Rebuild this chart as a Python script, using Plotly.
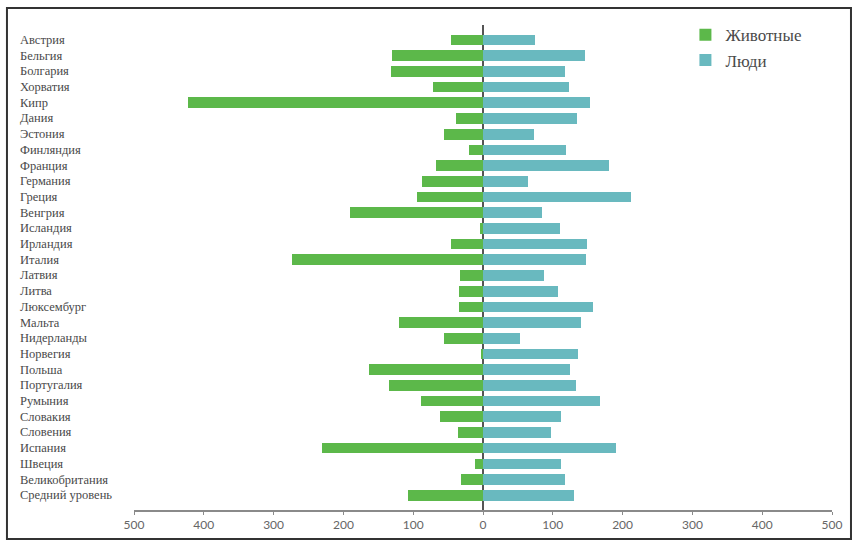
import plotly.graph_objects as go

countries = ["Австрия", "Бельгия", "Болгария", "Хорватия", "Кипр", "Дания", "Эстония",
             "Финляндия", "Франция", "Германия", "Греция", "Венгрия", "Исландия", "Ирландия",
             "Италия", "Латвия", "Литва", "Люксембург", "Мальта", "Нидерланды", "Норвегия",
             "Польша", "Португалия", "Румыния", "Словакия", "Словения", "Испания", "Швеция",
             "Великобритания", "Средний уровень"]
animals = [46, 131, 132, 71, 422, 39, 56, 20, 68, 88, 94, 190, 4, 46, 274, 33, 34, 34,
           120, 56, 3, 164, 134, 89, 61, 36, 230, 12, 32, 108]
people = [74, 146, 117, 123, 153, 135, 73, 119, 181, 64, 212, 84, 111, 149, 148, 88, 107,
          158, 140, 53, 136, 124, 133, 168, 112, 98, 191, 112, 118, 130]
tick_vals = [-500, -400, -300, -200, -100, 0, 100, 200, 300, 400, 500]
tick_text = [str(abs(v)) for v in tick_vals]

GREEN = "#5cb84a"
TEAL = "#69b9bf"

fig = go.Figure()
fig.add_trace(go.Bar(y=countries, x=[-a for a in animals], orientation="h", name="Животные",
                     marker=dict(color=GREEN, line=dict(width=0)), width=0.68))
fig.add_trace(go.Bar(y=countries, x=people, orientation="h", name="Люди",
                     marker=dict(color=TEAL, line=dict(width=0)), width=0.68))

# left-aligned category labels
for c in countries:
    fig.add_annotation(x=-0.1662, xref="paper", y=c, yref="y", text=c, showarrow=False,
                       xanchor="left", yanchor="middle",
                       font=dict(family="Liberation Serif", size=12.5, color="#4a4a4a"))

# frame
fig.add_shape(type="rect", xref="paper", yref="paper", x0=-0.182, x1=1.0272,
              y0=-0.0598, y1=1.035, line=dict(color="#333333", width=2), layer="above")

fig.update_layout(
    width=860, height=551,
    margin=dict(l=134, r=28, t=25, b=41),
    paper_bgcolor="white", plot_bgcolor="white",
    barmode="relative", bargap=0,
    showlegend=True,
    legend=dict(x=0.79, y=1.016, xanchor="left", yanchor="top",
                font=dict(family="Liberation Serif", size=17, color="#4a4a4a"),
                bgcolor="rgba(0,0,0,0)", itemwidth=30, tracegroupgap=0),
    xaxis=dict(range=[-500, 500], tickvals=tick_vals, ticktext=tick_text,
               showgrid=False, zeroline=True, zerolinecolor="#555555", zerolinewidth=1.5,
               showline=True, linecolor="#8a8a8a", linewidth=1.5,
               ticks="outside", ticklen=3, tickcolor="#8a8a8a",
               tickfont=dict(family="Lato", size=12, color="#666666"),
               layer="above traces", fixedrange=True),
    yaxis=dict(categoryorder="array", categoryarray=countries,
               range=[29.94, -0.955], showticklabels=False, showgrid=False,
               zeroline=False, showline=False, ticks=""),
)

fig.write_html("out.html")
